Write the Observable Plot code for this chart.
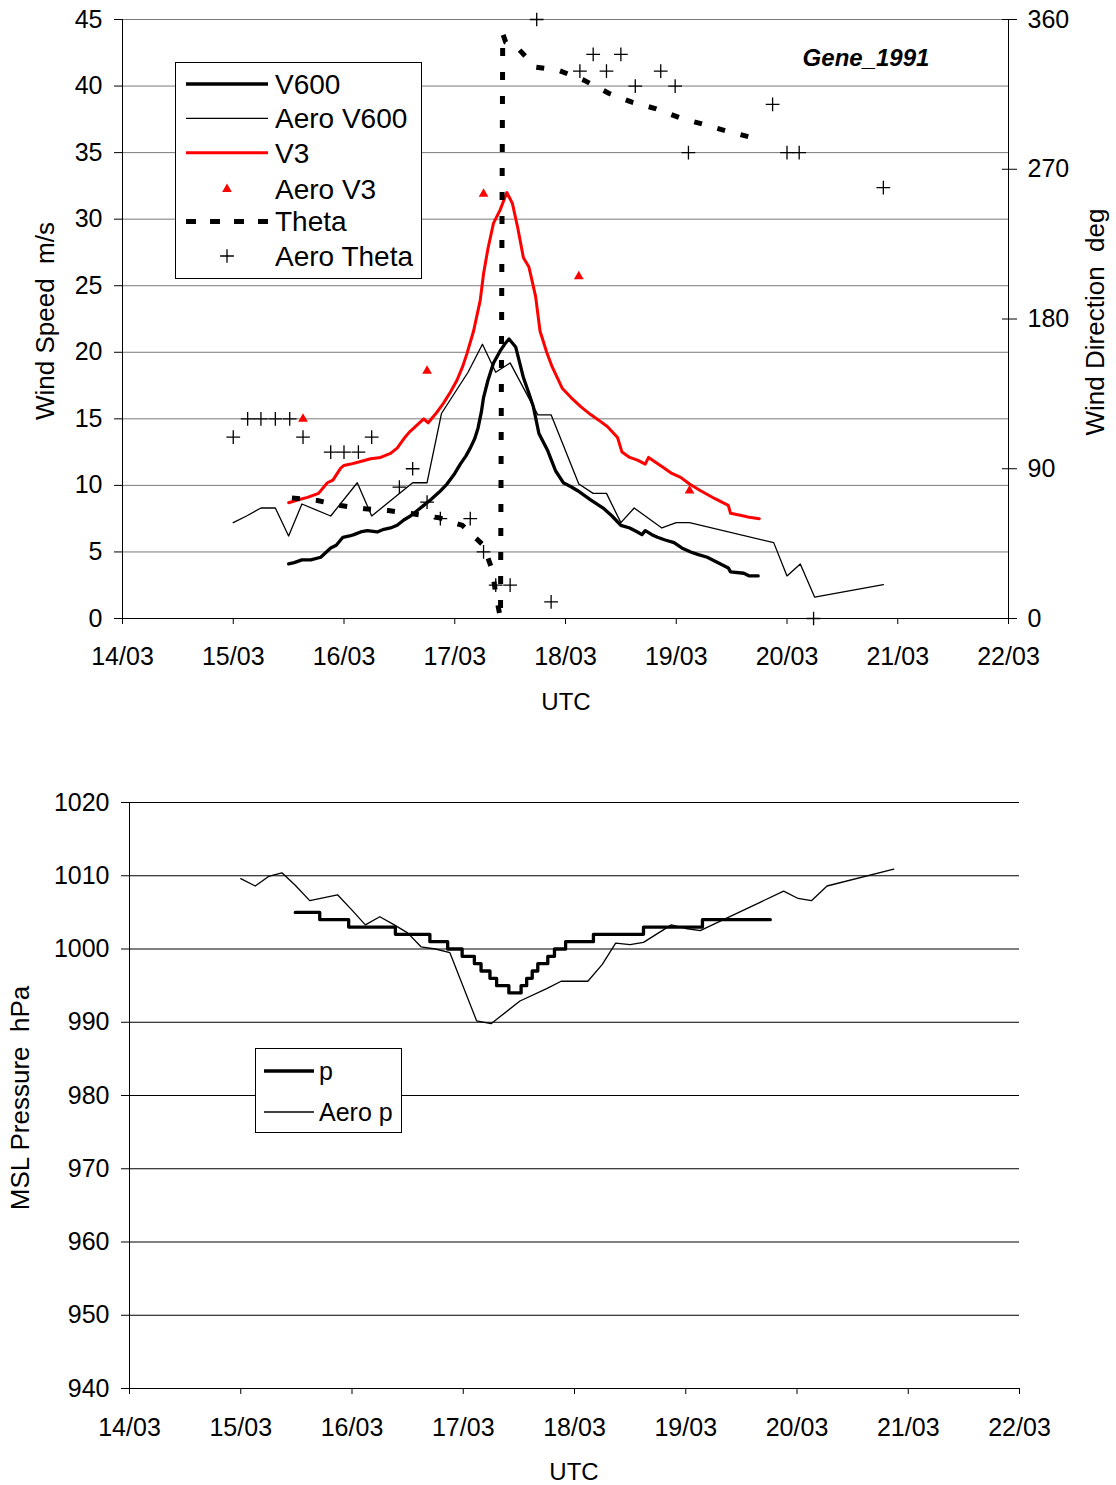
<!DOCTYPE html>
<html>
<head>
<meta charset="utf-8">
<script src="https://cdn.jsdelivr.net/npm/d3@7"></script>
<script src="https://cdn.jsdelivr.net/npm/@observablehq/plot@0.6"></script>
<style>
  body { margin: 0; background: #fff; }
  #page { position: relative; width: 1116px; height: 1485px; background: #fff;
          font-family: "Liberation Sans", Arial, sans-serif; color: #000; overflow: hidden; }
  .panel { position: absolute; left: 0; }
  .title { position: absolute; white-space: pre; font-size: 24px; line-height: 1; }
  .vtitle { font-size: 26px; }
  .ctr { transform: translate(-50%, -50%); }
  .rot { transform: translate(-50%, -50%) rotate(-90deg); }
  .legend { position: absolute; }
</style>
</head>
<body>
<div id="page">
  <div id="top" class="panel" style="top:0"></div>
  <div id="bottom" class="panel" style="top:760px"></div>

  <div class="title vtitle rot" style="left:45px; top:321px">Wind Speed  m/s</div>
  <div class="title vtitle rot" style="left:1095px; top:322px">Wind Direction  deg</div>
  <div class="title ctr" style="left:566px; top:702px">UTC</div>
  <div class="title ctr" style="left:866px; top:58px; font-weight:bold; font-style:italic">Gene_1991</div>

  <div class="title vtitle rot" style="left:20px; top:1098px">MSL Pressure  hPa</div>
  <div class="title ctr" style="left:574px; top:1472px">UTC</div>

  <svg class="legend" style="left:175px; top:62px" width="247" height="217"></svg>
  <svg class="legend" style="left:255px; top:1048px" width="147" height="85"></svg>
</div>

<script>
// ---- time axis (day of March 1991) ----
const dayTicks  = [14, 15, 16, 17, 18, 19, 20, 21, 22];
const dayLabels = ["14/03", "15/03", "16/03", "17/03", "18/03", "19/03", "20/03", "21/03", "22/03"];
const speedTicks = [0, 5, 10, 15, 20, 25, 30, 35, 40, 45];
const dirTicks   = [0, 90, 180, 270, 360];
const pressTicks = [940, 950, 960, 970, 980, 990, 1000, 1010, 1020];

// ---- wind speed at 600 m, model (m/s) ----
const v600 = [
  [15.50,4.1],[15.55,4.2],[15.62,4.4],[15.70,4.4],[15.79,4.6],[15.88,5.3],[15.93,5.5],[15.99,6.1],
  [16.05,6.2],[16.09,6.3],[16.15,6.5],[16.21,6.6],[16.30,6.5],[16.36,6.7],[16.42,6.8],[16.48,7.0],
  [16.54,7.4],[16.60,7.7],[16.66,8.1],[16.72,8.5],[16.78,8.9],[16.86,9.5],[16.93,10.1],[17.00,10.9],
  [17.05,11.6],[17.10,12.2],[17.14,12.8],[17.18,13.5],[17.21,14.3],[17.24,15.5],[17.26,16.6],[17.30,17.9],
  [17.35,19.2],[17.41,20.1],[17.45,20.6],[17.49,21.0],[17.55,20.4],[17.62,18.1],[17.67,16.9],[17.71,15.9],
  [17.76,13.9],[17.84,12.6],[17.91,11.1],[17.98,10.2],[18.05,9.9],[18.11,9.6],[18.23,8.9],[18.34,8.3],
  [18.42,7.7],[18.50,7.0],[18.58,6.8],[18.65,6.5],[18.69,6.3],[18.72,6.6],[18.78,6.3],[18.83,6.1],
  [18.90,5.9],[18.98,5.7],[19.05,5.3],[19.13,5.0],[19.20,4.8],[19.28,4.6],[19.40,4.1],[19.47,3.8],
  [19.49,3.5],[19.61,3.4],[19.66,3.2],[19.74,3.2]
];

// ---- aerological wind speed at 600 m (m/s) ----
const aeroV600 = [
  [15.00,7.2],[15.12,7.7],[15.25,8.3],[15.38,8.3],[15.50,6.2],[15.62,8.6],[15.88,7.7],[16.12,10.2],
  [16.25,7.7],[16.62,10.2],[16.75,10.2],[16.88,15.4],[17.12,18.5],[17.25,20.6],[17.37,18.5],[17.50,19.2],
  [17.75,15.3],[17.87,15.3],[18.12,10.1],[18.25,9.4],[18.37,9.4],[18.50,7.2],[18.62,8.3],[18.87,6.8],
  [19.00,7.2],[19.12,7.2],[19.88,5.7],[20.00,3.2],[20.12,4.1],[20.25,1.6],[20.87,2.55]
];

// ---- wind speed at 3 m, model (m/s) ----
const v3 = [
  [15.50,8.7],[15.58,8.9],[15.67,9.1],[15.77,9.4],[15.85,10.2],[15.90,10.4],[15.97,11.3],[16.00,11.5],
  [16.06,11.6],[16.15,11.8],[16.24,12.0],[16.33,12.1],[16.42,12.4],[16.48,12.8],[16.54,13.5],[16.59,14.0],
  [16.63,14.3],[16.72,15.0],[16.76,14.7],[16.83,15.4],[16.90,16.2],[16.96,17.0],[17.02,17.9],[17.07,18.9],
  [17.11,19.9],[17.17,21.6],[17.23,23.9],[17.26,25.9],[17.30,27.8],[17.35,29.7],[17.41,30.7],[17.47,32.0],
  [17.52,31.2],[17.57,29.3],[17.62,27.1],[17.67,26.4],[17.73,24.2],[17.77,21.6],[17.83,20.0],[17.88,18.9],
  [17.97,17.3],[18.05,16.6],[18.14,15.9],[18.23,15.3],[18.30,14.9],[18.38,14.4],[18.47,13.6],[18.51,12.5],
  [18.58,12.1],[18.65,11.9],[18.72,11.6],[18.75,12.1],[18.82,11.7],[18.89,11.3],[18.96,10.9],[19.04,10.6],
  [19.12,10.1],[19.22,9.6],[19.35,9.0],[19.47,8.5],[19.49,7.9],[19.61,7.7],[19.66,7.6],[19.75,7.5]
];

// ---- aerological wind speed near surface (m/s) ----
const aeroV3 = [[15.63,15.0],[16.75,18.6],[17.26,31.9],[18.12,25.7],[19.12,9.6]];

// ---- wind direction, model (deg) ----
const theta = [
  [15.53,72.5],[15.76,70.9],[15.97,67.9],[16.19,65.9],[16.40,64.9],[16.62,62.9],[16.86,60.5],
  [17.07,55.9],[17.26,43.9],[17.34,28.8],[17.37,14.8],[17.413,0],[17.433,351.6],[17.46,346.4],
  [17.56,343.4],[17.73,331.4],[17.94,329.4],[18.17,323.4],[18.39,315.7],[18.60,310.3],[18.82,306.3],
  [19.03,301.0],[19.25,296.9],[19.46,292.9],[19.69,288.9]
];

// ---- aerological wind direction (deg) ----
const aeroTheta = [
  [15.00,109],[15.13,120],[15.25,120],[15.38,120],[15.51,120],[15.63,109],[15.88,100],[16.00,100],
  [16.13,100],[16.25,109],[16.50,79],[16.62,90],[16.75,70],[16.87,60],[17.14,60],[17.26,40],
  [17.37,20],[17.50,20],[17.74,360],[17.87,10],[18.13,329],[18.25,339],[18.37,329],[18.50,339],
  [18.63,320],[18.86,329],[18.99,320],[19.11,280],[19.87,309],[20.00,280],[20.11,280],[20.24,0],
  [20.87,259]
];

// ---- mean sea level pressure, model (hPa), held until next change ----
const pModel = [
  [15.49,1005],[15.71,1004],[15.97,1003],[16.39,1002],[16.70,1001],[16.86,1000],[16.99,999],
  [17.10,998],[17.16,997],[17.24,996],[17.30,995],[17.41,994],[17.52,995],[17.57,996],[17.62,997],
  [17.67,998],[17.76,999],[17.82,1000],[17.92,1001],[18.17,1002],[18.62,1003],[19.15,1004],[19.76,1004]
];

// ---- aerological mean sea level pressure (hPa) ----
const pAero = [
  [15.00,1009.6],[15.13,1008.6],[15.25,1009.9],[15.37,1010.4],[15.49,1008.7],[15.62,1006.6],
  [15.87,1007.4],[16.00,1005.3],[16.12,1003.3],[16.25,1004.4],[16.38,1003.3],[16.50,1002.2],
  [16.62,1000.3],[16.75,1000.0],[16.88,999.5],[17.12,990.2],[17.25,989.8],[17.51,992.9],
  [17.75,994.6],[17.88,995.6],[18.12,995.6],[18.25,997.9],[18.37,1000.8],[18.50,1000.6],
  [18.62,1000.9],[18.87,1003.3],[19.00,1002.8],[19.13,1002.5],[19.88,1007.9],[20.01,1006.9],
  [20.13,1006.6],[20.27,1008.6],[20.87,1010.9]
];

const FONT = '"Liberation Sans", Arial, sans-serif';
const dayFmt = d => dayLabels[dayTicks.indexOf(d)];
const X = d => d[0], Y = d => d[1];
// direction shares the speed frame: 360 deg spans the 45 m/s range
const DIR = 360 / 45;
const Yd = d => d[1] / DIR;
const THETA_DASH = "8,16";

const topPlot = Plot.plot({
  width: 1116, height: 720,
  marginLeft: 122, marginRight: 108, marginTop: 19, marginBottom: 102,
  style: {fontFamily: FONT, fontSize: "25px", color: "#000", background: "transparent", overflow: "visible"},
  x: {domain: [14, 22], label: null},
  y: {domain: [0, 45], label: null},
  marks: [
    Plot.ruleY(speedTicks.slice(1), {stroke: "#7a7a7a", strokeWidth: 1}),
    Plot.ruleY([0], {stroke: "#000", strokeWidth: 1}),
    Plot.ruleX([14, 22], {stroke: "#000", strokeWidth: 1}),
    Plot.axisX({ticks: dayTicks, tickFormat: dayFmt, tickSize: 6, tickPadding: 23, label: null}),
    Plot.axisY({ticks: speedTicks, tickSize: 8, tickPadding: 12, tickFormat: d => String(d), label: null}),
    Plot.axisY({anchor: "right", ticks: dirTicks.map(d => d / DIR), tickFormat: d => String(Math.round(d * DIR)),
                tickSize: 15, insetRight: 7, tickPadding: 11, label: null}),
    Plot.line(aeroV600, {x: X, y: Y, stroke: "#000", strokeWidth: 1.3}),
    Plot.line(v600, {x: X, y: Y, stroke: "#000", strokeWidth: 3.3}),
    Plot.line(v3, {x: X, y: Y, stroke: "#ff0000", strokeWidth: 3}),
    Plot.line(theta, {x: X, y: Yd, stroke: "#000", strokeWidth: 5, strokeDasharray: THETA_DASH, strokeLinecap: "butt"}),
    Plot.dot(aeroV3, {x: X, y: Y, symbol: "triangle", r: 3.6, fill: "#ff0000", stroke: "none"}),
    Plot.dot(aeroTheta, {x: X, y: Yd, symbol: "plus", r: 4.5, stroke: "#000", strokeWidth: 1.3})
  ]
});
document.getElementById("top").appendChild(topPlot);

const bottomPlot = Plot.plot({
  width: 1116, height: 725,
  marginLeft: 129, marginRight: 97, marginTop: 42, marginBottom: 97,
  style: {fontFamily: FONT, fontSize: "25px", color: "#000", background: "transparent", overflow: "visible"},
  x: {domain: [14, 22], label: null},
  y: {domain: [940, 1020], label: null},
  marks: [
    Plot.ruleY(pressTicks, {stroke: "#000", strokeWidth: 1}),
    Plot.ruleX([14], {stroke: "#000", strokeWidth: 1}),
    Plot.axisX({ticks: dayTicks, tickFormat: dayFmt, tickSize: 6, tickPadding: 24, label: null}),
    Plot.axisY({ticks: pressTicks, tickSize: 8, tickPadding: 12, tickFormat: d => String(d), label: null}),
    Plot.line(pAero, {x: X, y: Y, stroke: "#000", strokeWidth: 1.3}),
    Plot.line(pModel, {x: X, y: Y, stroke: "#000", strokeWidth: 3.3, curve: "step-after"})
  ]
});
document.getElementById("bottom").appendChild(bottomPlot);

// ---- legends ----
const [leg1, leg2] = document.querySelectorAll("svg.legend");
function buildLegend(svgEl, items, opts) {
  const svg = d3.select(svgEl);
  svg.append("rect").attr("x", 0.5).attr("y", 0.5)
    .attr("width", +svgEl.getAttribute("width") - 1).attr("height", +svgEl.getAttribute("height") - 1)
    .attr("fill", "#fff").attr("stroke", "#000").attr("stroke-width", 1);
  items.forEach((it, i) => {
    const y = opts.y0 + i * opts.dy + (it.shift || 0);
    const g = svg.append("g");
    const mid = (opts.x1 + opts.x2) / 2;
    if (it.kind === "line") {
      g.append("line").attr("x1", opts.x1).attr("x2", opts.x2).attr("y1", y).attr("y2", y)
        .attr("stroke", it.color).attr("stroke-width", it.width)
        .attr("stroke-dasharray", it.dash || null);
    } else if (it.kind === "triangle") {
      g.append("path").attr("transform", `translate(${mid},${y})`)
        .attr("d", d3.symbol(d3.symbolTriangle, Math.PI * 3.6 * 3.6)()).attr("fill", it.color);
    } else if (it.kind === "plus") {
      g.append("path").attr("transform", `translate(${mid},${y})`)
        .attr("d", d3.symbol(d3.symbolPlus, Math.PI * 4.5 * 4.5)())
        .attr("fill", "none").attr("stroke", it.color).attr("stroke-width", 1.3);
    }
    svg.append("text").attr("x", opts.tx).attr("y", y).attr("dy", "0.35em")
      .attr("font-family", FONT).attr("font-size", opts.fs).attr("fill", "#000").text(it.label);
  });
}
buildLegend(leg1, [
  {label: "V600", kind: "line", color: "#000", width: 3.3},
  {label: "Aero V600", kind: "line", color: "#000", width: 1.3},
  {label: "V3", kind: "line", color: "#ff0000", width: 3},
  {label: "Aero V3", kind: "triangle", color: "#ff0000", shift: 2},
  {label: "Theta", kind: "line", color: "#000", width: 5, dash: "10,14"},
  {label: "Aero Theta", kind: "plus", color: "#000"}
], {x1: 11, x2: 93, tx: 100, y0: 22, dy: 34.4, fs: 28});
buildLegend(leg2, [
  {label: "p", kind: "line", color: "#000", width: 3.3},
  {label: "Aero p", kind: "line", color: "#000", width: 1.3}
], {x1: 9, x2: 59, tx: 64, y0: 23, dy: 41, fs: 25});
</script>
</body>
</html>
